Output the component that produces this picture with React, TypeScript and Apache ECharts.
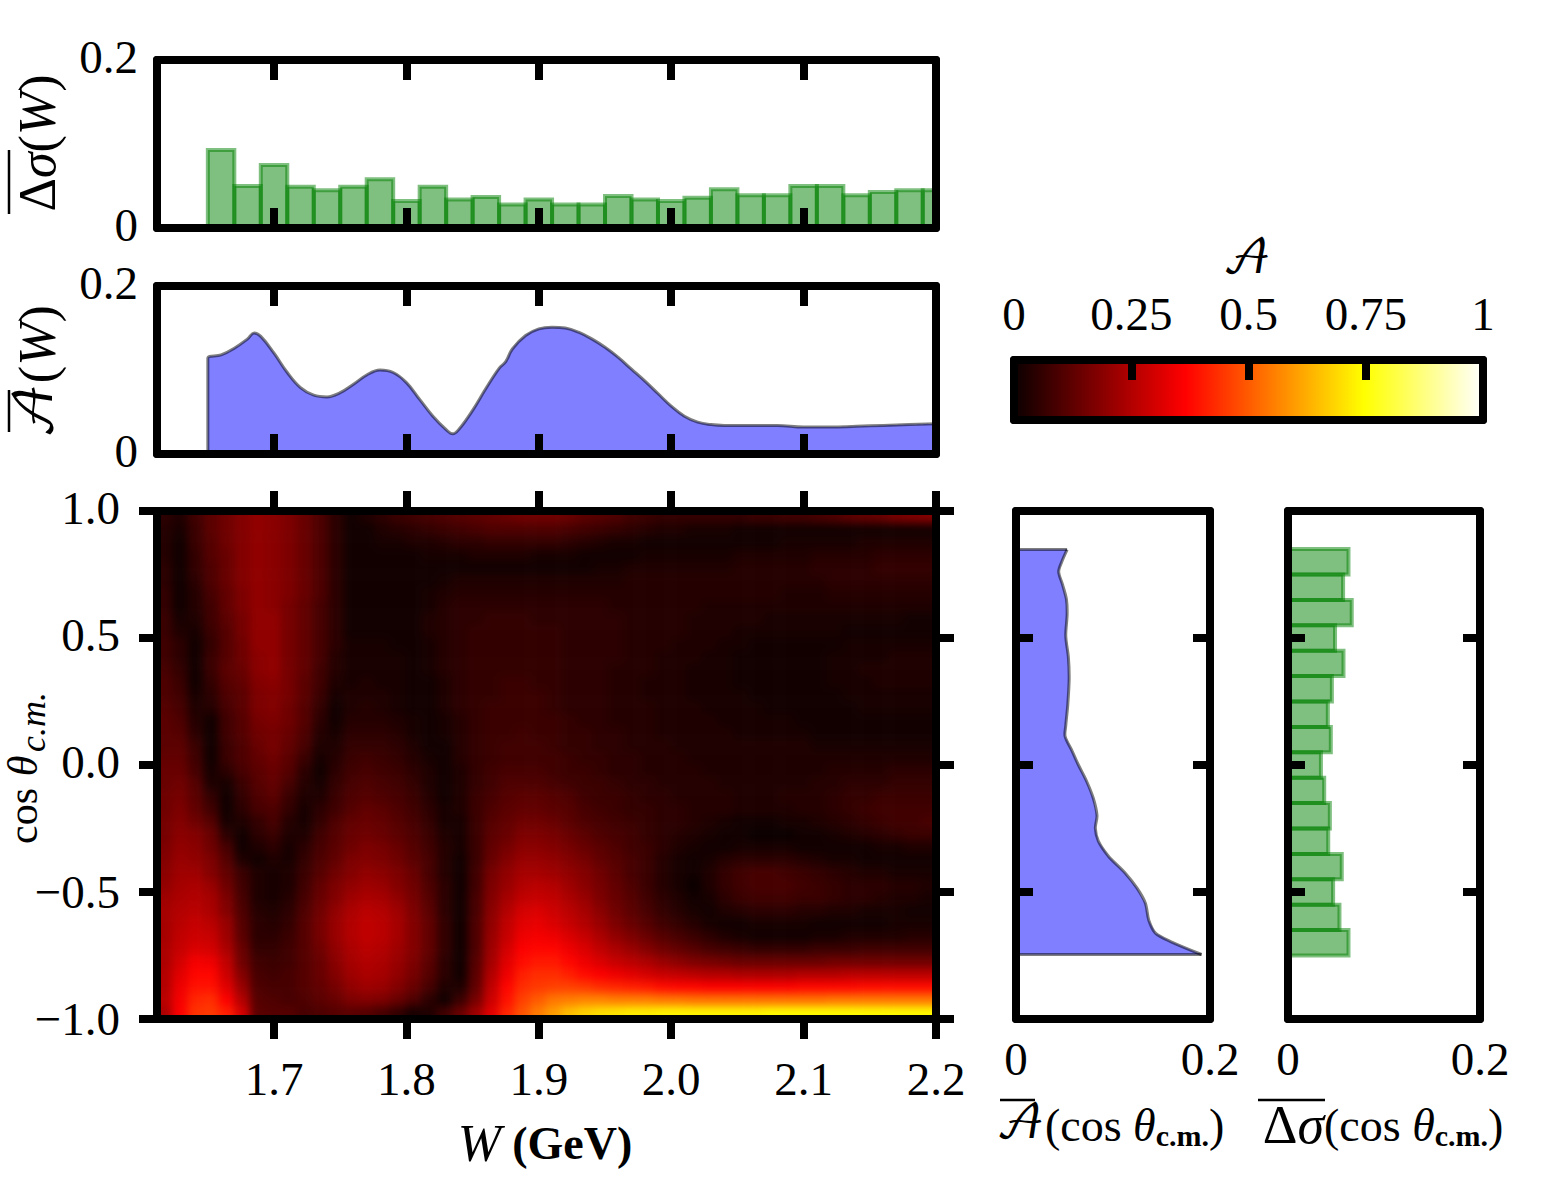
import React, { useEffect, useRef } from "react";
import * as echarts from "echarts";

const SERIF = '"Liberation Serif", serif';
const SCRIPT = '"DejaVu Math TeX Gyre", "Liberation Serif", serif';

const wTicks = [1.7, 1.8, 1.9, 2.0, 2.1, 2.2];
const cosTicks = [-1, -0.5, 0, 0.5, 1];
const innerCosTicks = [-0.5, 0, 0.5];
const meanTicks = [0, 0.2];
const barTicks = [0, 0.25, 0.5, 0.75, 1];
const W_MIN = 1.6116;
const W_MAX = 2.2;

const sigmaWCenters = [1.66, 1.68, 1.7, 1.72, 1.74, 1.76, 1.78, 1.8, 1.82, 1.84, 1.86, 1.88, 1.9, 1.92, 1.94, 1.96, 1.98, 2.0, 2.02, 2.04, 2.06, 2.08, 2.1, 2.12, 2.14, 2.16, 2.18, 2.2];
const sigmaWValues = [0.093, 0.05, 0.075, 0.049, 0.045, 0.049, 0.058, 0.032, 0.049, 0.034, 0.037, 0.028, 0.034, 0.028, 0.028, 0.038, 0.034, 0.032, 0.036, 0.046, 0.039, 0.039, 0.05, 0.05, 0.039, 0.043, 0.045, 0.045];

const aW = [1.65, 1.65, 1.66, 1.67, 1.68, 1.685, 1.69, 1.7, 1.71, 1.72, 1.73, 1.74, 1.75, 1.76, 1.77, 1.78, 1.79, 1.8, 1.81, 1.82, 1.83, 1.835, 1.84, 1.85, 1.86, 1.87, 1.875, 1.88, 1.89, 1.9, 1.91, 1.92, 1.93, 1.94, 1.95, 1.96, 1.97, 1.98, 1.99, 2.0, 2.01, 2.02, 2.03, 2.04, 2.06, 2.08, 2.1, 2.12, 2.14, 2.16, 2.18, 2.2];
const aWValues = [0, 0.114, 0.118, 0.126, 0.137, 0.144, 0.14, 0.12, 0.097, 0.079, 0.07, 0.068, 0.073, 0.083, 0.094, 0.1, 0.097, 0.085, 0.065, 0.045, 0.029, 0.024, 0.03, 0.052, 0.078, 0.102, 0.11, 0.125, 0.141, 0.149, 0.151, 0.15, 0.145, 0.137, 0.127, 0.115, 0.101, 0.087, 0.072, 0.057, 0.045, 0.038, 0.035, 0.034, 0.034, 0.034, 0.032, 0.032, 0.033, 0.034, 0.035, 0.036];

const aCosTheta = [0.848, 0.803, 0.761, 0.71, 0.652, 0.593, 0.508, 0.424, 0.34, 0.239, 0.155, 0.113, 0.054, 0.003, -0.064, -0.131, -0.199, -0.249, -0.3, -0.359, -0.426, -0.485, -0.544, -0.611, -0.662, -0.695, -0.746];
const aCosValues = [0.0527, 0.0475, 0.044, 0.048, 0.052, 0.0527, 0.0513, 0.054, 0.0548, 0.0534, 0.0513, 0.0506, 0.058, 0.064, 0.0728, 0.0797, 0.0835, 0.0818, 0.0849, 0.0953, 0.1127, 0.1248, 0.1334, 0.1369, 0.1438, 0.1594, 0.1913];

const sigmaCosCenters = [0.8, 0.7, 0.6, 0.5, 0.4, 0.3, 0.2, 0.1, 0, -0.1, -0.2, -0.3, -0.4, -0.5, -0.6, -0.7];
const sigmaCosValues = [0.063, 0.0574, 0.0664, 0.049, 0.0578, 0.0457, 0.0415, 0.0446, 0.0343, 0.0377, 0.0436, 0.0419, 0.056, 0.047, 0.0536, 0.063];

// A(W, cos) in hundredths; first row is the top of the map (cos = +1), first column the left (low W).
const heatRows: number[][] = [
[5,3,8,12,15,18,20,19,17,14,10,5,1,3,5,7,8,9,10,11,12,13,14,15,15,15,14,12,11,10,8,7,6,6,6,6,6,6,7,7,8,8,9,10,12,13,14,16,17,18],
[4,2,7,12,15,18,20,19,17,14,10,5,1,1,3,4,5,6,7,8,9,10,10,10,10,10,9,8,7,6,5,4,3,3,2,2,2,1,1,1,1,1,1,1,1,1,1,1,1,1],
[4,1,7,11,15,18,20,19,17,14,10,5,1,1,2,2,3,3,4,5,5,6,6,6,6,6,5,4,3,2,2,1,1,1,1,1,1,1,1,1,2,2,2,2,2,3,3,3,3,3],
[4,1,6,11,14,18,20,19,17,14,10,5,1,1,1,1,1,2,2,2,3,3,3,3,2,2,2,1,1,1,1,2,2,2,2,2,2,3,3,3,3,3,4,4,4,4,5,5,5,5],
[5,1,6,10,14,18,20,19,17,14,10,5,1,1,1,1,1,1,1,1,1,1,1,1,1,1,1,1,2,2,3,3,3,3,3,3,3,4,4,4,4,4,5,5,5,5,6,6,6,6],
[5,1,5,10,14,18,20,19,17,14,10,5,1,1,1,1,1,1,2,3,3,3,3,3,3,3,3,3,3,3,4,4,4,4,4,4,4,4,4,4,4,4,4,5,5,5,5,5,5,5],
[6,1,4,9,13,17,20,19,17,14,10,5,1,1,1,1,1,2,3,4,4,4,4,4,4,4,4,4,4,4,4,4,4,4,4,4,4,4,4,4,3,3,3,4,4,4,4,4,4,4],
[6,1,4,8,13,17,20,19,16,13,9,5,1,1,1,1,1,2,4,5,5,5,5,5,5,5,5,5,5,4,4,4,4,4,4,3,3,3,3,3,3,3,3,3,3,3,3,3,3,3],
[7,2,3,8,12,16,20,20,16,13,9,5,1,1,1,1,1,3,4,5,5,6,6,6,5,5,5,5,5,5,4,4,4,4,3,3,3,3,3,2,2,2,2,2,2,2,2,2,1,1],
[7,3,2,7,11,16,20,20,16,13,9,5,1,1,1,1,1,3,4,5,6,6,6,6,6,6,5,5,5,5,4,4,4,4,3,3,3,2,2,2,2,2,2,2,1,1,1,1,1,1],
[8,5,1,6,11,15,20,20,16,13,9,5,2,2,2,1,1,2,4,5,6,6,6,6,6,6,5,5,5,5,4,4,4,3,3,3,2,2,1,1,1,1,1,1,2,2,2,2,2,2],
[8,5,1,7,11,15,19,20,16,13,9,4,2,2,2,2,1,2,4,5,6,6,6,6,6,6,5,5,5,5,4,4,3,3,3,2,2,1,1,1,1,1,1,2,2,2,2,3,3,3],
[9,6,1,7,12,14,19,20,16,13,8,4,2,2,2,2,1,2,4,5,6,6,6,6,6,6,5,5,5,4,4,4,3,3,2,2,2,1,1,1,1,1,1,2,2,3,3,3,3,3],
[10,7,1,6,11,13,18,19,16,12,8,3,2,3,2,2,1,1,3,5,6,6,7,7,6,6,5,5,5,4,4,3,3,3,2,2,2,1,1,1,1,1,1,2,2,2,3,3,3,3],
[10,8,2,5,10,12,17,18,16,12,7,2,3,3,3,2,1,1,3,5,6,6,7,7,7,6,5,5,5,4,4,3,3,3,2,2,2,2,1,1,1,1,1,1,2,2,2,2,2,2],
[11,9,3,4,9,12,17,18,15,11,6,1,3,4,3,2,1,1,3,5,6,7,7,7,7,6,5,5,5,4,4,4,3,3,3,2,2,2,2,1,1,1,1,1,1,2,2,2,2,2],
[12,10,4,1,8,11,16,17,15,11,5,1,4,4,4,3,2,1,2,4,6,7,7,7,7,7,6,5,5,4,4,4,3,3,3,3,2,2,2,2,2,1,1,1,1,1,1,1,1,1],
[12,11,5,1,8,11,15,16,14,10,4,2,5,5,5,4,2,1,2,4,6,7,7,8,7,7,6,6,5,5,4,4,3,3,3,3,3,2,2,2,2,2,1,1,1,1,1,1,1,1],
[12,12,7,1,7,10,14,16,13,9,3,3,6,6,6,5,3,1,1,4,6,7,8,8,8,7,6,6,5,5,4,4,4,3,3,3,3,3,3,3,3,3,2,2,2,2,2,2,2,2],
[13,13,8,1,7,10,13,15,12,7,2,4,7,8,7,6,4,2,1,4,6,7,8,8,8,8,7,6,6,5,5,4,4,4,3,3,3,3,3,3,3,3,3,3,3,3,3,3,3,3],
[14,14,9,2,5,9,12,14,11,5,1,5,8,9,8,7,5,3,1,3,6,8,9,9,9,8,7,7,6,5,5,4,4,4,4,3,3,3,3,3,3,3,3,4,4,4,4,5,5,5],
[14,15,11,3,2,7,11,13,9,4,2,6,9,10,9,8,6,3,1,3,6,8,10,10,10,9,8,7,7,6,5,5,4,4,4,4,3,3,3,3,3,3,4,4,5,5,5,6,6,6],
[15,16,12,6,1,6,10,12,7,3,3,7,10,11,10,9,7,4,1,3,7,9,11,12,12,11,10,8,7,7,6,5,5,4,4,4,4,3,3,3,4,4,4,5,6,6,7,7,7,7],
[15,17,13,8,1,5,9,10,6,2,5,8,11,13,12,10,8,5,2,3,7,10,12,13,13,12,11,9,8,7,6,6,5,5,4,4,4,3,3,3,3,4,4,5,6,7,8,8,8,8],
[16,18,15,11,2,3,6,9,4,2,6,10,13,14,13,11,9,6,2,2,7,11,13,15,15,14,12,10,9,8,7,6,5,5,4,3,2,1,1,1,2,2,3,4,5,6,7,8,8,9],
[16,19,18,14,5,1,5,7,3,3,8,11,14,15,14,12,10,7,3,2,7,12,14,17,17,16,14,12,10,9,8,6,5,4,3,2,1,1,0,0,0,1,1,2,3,4,5,6,7,7],
[17,20,19,15,9,1,3,5,2,5,9,12,15,17,16,14,11,8,4,2,7,13,16,19,19,18,16,14,12,10,8,7,5,3,2,1,1,2,2,2,2,1,1,1,1,1,2,2,3,3],
[18,21,20,17,11,3,1,3,2,6,10,13,17,18,17,15,12,9,4,1,7,14,18,21,21,20,18,16,13,11,9,7,4,2,1,2,4,5,5,5,5,4,3,2,2,1,1,1,1,1],
[19,22,22,18,13,7,3,2,3,7,11,15,18,20,19,17,14,9,4,1,8,16,20,23,23,22,20,18,15,12,9,7,4,2,1,3,6,8,9,9,8,7,6,5,4,3,3,2,2,2],
[20,23,24,21,15,8,3,2,3,8,13,17,20,22,21,18,15,10,5,1,8,17,21,25,26,25,22,19,16,13,10,7,4,2,0,3,6,8,9,9,9,8,7,6,5,5,5,4,4,3],
[22,24,25,23,17,9,3,2,4,9,14,18,22,24,23,20,16,11,5,1,9,18,23,27,28,27,24,21,17,14,11,8,5,3,1,2,5,7,8,8,8,7,7,6,5,5,4,3,3,2],
[23,25,26,24,18,10,4,3,5,10,15,20,24,26,25,22,17,12,5,1,9,19,25,30,31,29,26,23,19,15,12,9,6,4,2,1,3,4,5,5,5,4,4,3,3,2,2,2,1,1],
[23,26,28,26,21,11,5,4,6,11,16,21,25,27,26,23,18,13,6,1,10,20,27,32,33,31,28,25,21,17,14,11,8,6,4,2,1,1,2,2,2,2,1,1,1,1,1,2,2,2],
[23,27,29,28,22,12,5,5,7,11,16,21,25,27,26,23,18,13,6,1,10,21,28,34,35,34,31,28,24,20,17,14,11,9,7,5,3,2,1,1,1,1,2,2,3,3,3,3,4,4],
[24,28,31,30,24,14,6,6,8,11,15,20,24,26,25,22,18,13,6,1,10,22,30,36,37,37,34,31,27,24,21,18,15,13,11,9,8,7,6,6,6,6,7,7,7,8,8,8,8,8],
[24,30,35,34,27,15,8,7,8,11,14,19,23,25,24,21,17,12,5,1,11,23,32,38,40,40,37,34,31,28,26,24,21,19,17,16,15,14,14,14,14,14,14,15,15,15,15,15,15,15],
[25,32,37,37,29,18,9,8,9,11,14,18,22,24,23,20,16,11,5,1,12,25,34,41,43,43,41,38,36,34,32,30,28,27,26,25,25,24,24,24,24,25,25,25,26,26,26,26,26,26],
[25,34,39,39,32,21,10,9,9,11,13,16,20,22,21,18,14,9,3,3,13,27,37,43,45,46,46,45,43,42,41,40,38,37,37,36,36,36,36,36,36,37,37,37,37,38,38,38,38,38],
[26,35,42,43,36,25,11,10,9,10,12,14,17,18,17,14,10,5,1,7,16,29,39,46,50,54,55,56,56,55,55,55,54,54,53,53,53,53,53,53,53,53,53,54,54,54,54,54,54,54],
[24,36,44,45,41,30,12,11,11,9,10,11,12,11,9,6,2,3,8,14,22,32,42,49,55,60,65,68,70,71,72,72,73,73,73,73,73,73,73,74,74,74,74,74,74,74,74,74,74,74],
];

const PAD = 3;
const BLUR = 4.5;
const PLOT = { left: 157, top: 511, width: 779, height: 508 };

function hot(v: number): string {
  const r = Math.min(1, 0.0416 + (v * (1 - 0.0416)) / 0.365);
  const g = Math.max(0, Math.min(1, (v - 0.365) / 0.381));
  const b = Math.max(0, Math.min(1, (v - 0.746) / 0.254));
  return `rgb(${Math.round(r * 255)},${Math.round(g * 255)},${Math.round(b * 255)})`;
}

const BOXES = [
  { left: 157, top: 60, width: 779, height: 168 },
  { left: 157, top: 286, width: 779, height: 168 },
  { left: 157, top: 511, width: 779, height: 508 },
  { left: 1016, top: 511, width: 194, height: 508 },
  { left: 1288, top: 511, width: 192, height: 508 },
  { left: 1014, top: 360, width: 469, height: 60 },
];

const labelBase = { color: "#000", fontFamily: SERIF, fontSize: 47 };

function axis(gridIndex: number, position: string, min: number, max: number, tick?: any, label?: any) {
  return {
    type: "value",
    gridIndex,
    position,
    min,
    max,
    z: 10,
    axisLine: { show: true, onZero: false, lineStyle: { color: "#000", width: 8 } },
    splitLine: { show: false },
    axisTick: tick
      ? { show: true, inside: tick.inside, length: tick.length, customValues: tick.values, lineStyle: { color: "#000", width: 8 } }
      : { show: false },
    axisLabel: label
      ? { show: true, ...labelBase, customValues: label.values, margin: label.margin, formatter: label.formatter, rich: label.rich, hideOverlap: false }
      : { show: false },
  };
}

const fmt1 = (v: number) => v.toFixed(1);
const fmtCos = (v: number) => (v < 0 ? `{n|${v.toFixed(1).replace("-", "\u2212")}}` : `{p|${v.toFixed(1)}}`);
const fmtMean = (v: number) => (v === 0 ? "0" : "0.2");
const fmtMeanUp = (v: number) => (v === 0 ? "{p|0}" : "{p|0.2}");
const cosRich = {
  n: { fontFamily: SERIF, fontSize: 47, color: "#000" },
  p: { fontFamily: SERIF, fontSize: 47, color: "#000", padding: [0, 0, 6, 0] },
};
const meanRich = {
  p: { fontFamily: SERIF, fontSize: 47, color: "#000", padding: [0, 0, 7, 0] },
};

function overline(x1: number, y1: number, x2: number, y2: number) {
  return { type: "line", shape: { x1, y1, x2, y2 }, style: { stroke: "#000", lineWidth: 2.5 }, z: 20 };
}

function txt(x: number, y: number, text: string, font: string, rotation = 0, rich?: any) {
  return {
    type: "text",
    x,
    y,
    rotation,
    z: 20,
    style: { text, font, fill: "#000", textAlign: "center", textVerticalAlign: "middle", rich },
  };
}

const bigRich = {
  a: { fontFamily: SCRIPT, fontSize: 52 },
  d: { fontFamily: SERIF, fontSize: 52 },
  i: { fontFamily: SERIF, fontStyle: "italic", fontSize: 52 },
  r: { fontFamily: SERIF, fontSize: 52 },
};

const subRich = {
  a: { fontFamily: SCRIPT, fontSize: 46, lineHeight: 50, verticalAlign: "middle" },
  d: { fontFamily: SERIF, fontSize: 54, lineHeight: 50, verticalAlign: "middle" },
  g: { fontFamily: SERIF, fontStyle: "italic", fontSize: 54, lineHeight: 50, verticalAlign: "middle" },
  i: { fontFamily: SERIF, fontStyle: "italic", fontSize: 46, lineHeight: 50, verticalAlign: "middle" },
  r: { fontFamily: SERIF, fontSize: 46, lineHeight: 50, verticalAlign: "middle" },
  s: { fontFamily: SERIF, fontWeight: "bold", fontSize: 30, lineHeight: 50, verticalAlign: "bottom" },
};

export default function App() {
  const heatRef = useRef<HTMLDivElement>(null);
  const mainRef = useRef<HTMLDivElement>(null);

  useEffect(() => {
    const nRows = heatRows.length;
    const nCols = heatRows[0].length;
    const heatData: number[][] = [];
    for (let r = -PAD; r < nRows + PAD; r++) {
      for (let c = -PAD; c < nCols + PAD; c++) {
        const rr = Math.max(0, Math.min(nRows - 1, r));
        const cc = Math.max(0, Math.min(nCols - 1, c));
        heatData.push([c + PAD, r + PAD, heatRows[rr][cc] / 100]);
      }
    }
    const ramp: string[] = [];
    for (let i = 0; i <= 50; i++) ramp.push(hot(i / 50));

    const heat = echarts.init(heatRef.current!, undefined, { renderer: "svg" });
    heat.setOption({
      animation: false,
      grid: { left: 0, right: 0, top: 0, bottom: 0 },
      xAxis: { type: "category", show: false, data: Array.from({ length: nCols + 2 * PAD }, (_, i) => i) },
      yAxis: { type: "category", show: false, inverse: true, data: Array.from({ length: nRows + 2 * PAD }, (_, i) => i) },
      visualMap: { show: false, min: 0, max: 1, dimension: 2, inRange: { color: ramp } },
      series: [{ type: "heatmap", data: heatData, progressive: 0, emphasis: { disabled: true } }],
    });

    const chart = echarts.init(mainRef.current!, undefined, { renderer: "svg" });
    const inTop = { inside: true, length: 20, values: wTicks };
    const outW = { inside: false, length: 20, values: wTicks };
    const outCos = { inside: false, length: 18, values: cosTicks };
    const inCos = { inside: true, length: 17, values: innerCosTicks };

    const xAxes = [
      axis(0, "bottom", W_MIN, W_MAX, inTop),
      axis(0, "top", W_MIN, W_MAX, inTop),
      axis(1, "bottom", W_MIN, W_MAX, inTop),
      axis(1, "top", W_MIN, W_MAX, inTop),
      axis(2, "bottom", W_MIN, W_MAX, outW, { values: wTicks, margin: 36, formatter: fmt1 }),
      axis(2, "top", W_MIN, W_MAX, outW),
      axis(3, "bottom", 0, 0.2, undefined, { values: meanTicks, margin: 16, formatter: fmtMean }),
      axis(3, "top", 0, 0.2),
      axis(4, "bottom", 0, 0.2, undefined, { values: meanTicks, margin: 16, formatter: fmtMean }),
      axis(4, "top", 0, 0.2),
      axis(5, "bottom", 0, 1),
      axis(5, "top", 0, 1, { inside: true, length: 20, values: [0.25, 0.5, 0.75] }, { values: barTicks, margin: 23, formatter: (v: number) => String(v) }),
    ];
    const yAxes = [
      axis(0, "left", 0, 0.2, undefined, { values: meanTicks, margin: 19, formatter: fmtMeanUp, rich: meanRich }),
      axis(0, "right", 0, 0.2),
      axis(1, "left", 0, 0.2, undefined, { values: meanTicks, margin: 19, formatter: fmtMeanUp, rich: meanRich }),
      axis(1, "right", 0, 0.2),
      axis(2, "left", -1, 1, outCos, { values: cosTicks, margin: 37, formatter: fmtCos, rich: cosRich }),
      axis(2, "right", -1, 1, outCos),
      axis(3, "left", -1, 1, inCos),
      axis(3, "right", -1, 1, inCos),
      axis(4, "left", -1, 1, inCos),
      axis(4, "right", -1, 1, inCos),
      axis(5, "left", 0, 1),
      axis(5, "right", 0, 1),
    ];

    const GREEN = "rgba(0,128,0,0.5)";
    const BLUE = "rgba(0,0,255,0.5)";
    const EDGE = "rgba(0,0,0,0.5)";

    chart.setOption({
      animation: false,
      backgroundColor: "transparent",
      grid: BOXES.map((b) => ({ ...b, containLabel: false })),
      xAxis: xAxes,
      yAxis: yAxes,
      series: [
        {
          type: "custom",
          xAxisIndex: 0,
          yAxisIndex: 0,
          clip: true,
          silent: true,
          data: sigmaWCenters.map((c, i) => [c, sigmaWValues[i]]),
          renderItem: (_params: any, api: any) => {
            const c = api.value(0);
            const v = api.value(1);
            const a = api.coord([c - 0.01, v]);
            const b = api.coord([c + 0.01, 0]);
            return {
              type: "rect",
              shape: { x: a[0], y: a[1], width: b[0] - a[0], height: b[1] - a[1] },
              style: { fill: GREEN, stroke: GREEN, lineWidth: 4 },
            };
          },
        },
        {
          type: "line",
          xAxisIndex: 2,
          yAxisIndex: 2,
          showSymbol: false,
          smooth: 0.4,
          data: aW.map((w, i) => [w, aWValues[i]]),
          lineStyle: { color: EDGE, width: 3 },
          areaStyle: { color: BLUE, origin: "start", opacity: 1 },
          silent: true,
        },
        {
          type: "custom",
          xAxisIndex: 6,
          yAxisIndex: 6,
          clip: true,
          silent: true,
          data: aCosValues.map((v, i) => [v, aCosTheta[i]]),
          renderItem: (params: any, api: any) => {
            if (params.dataIndex !== 0) return null;
            const pts = aCosValues.map((v, i) => api.coord([v, aCosTheta[i]]));
            const start = api.coord([0, aCosTheta[0]]);
            const end = api.coord([0, aCosTheta[aCosTheta.length - 1]]);
            const edge = { stroke: EDGE, lineWidth: 3, fill: "none" };
            return {
              type: "group",
              children: [
                { type: "polygon", shape: { points: [start, ...pts, end] }, style: { fill: BLUE } },
                { type: "polyline", shape: { points: pts, smooth: 0.3 }, style: edge },
                { type: "polyline", shape: { points: [start, pts[0]] }, style: edge },
                { type: "polyline", shape: { points: [pts[pts.length - 1], end] }, style: edge },
              ],
            };
          },
        },
        {
          type: "custom",
          xAxisIndex: 8,
          yAxisIndex: 8,
          clip: true,
          silent: true,
          data: sigmaCosCenters.map((c, i) => [sigmaCosValues[i], c]),
          renderItem: (_params: any, api: any) => {
            const v = api.value(0);
            const c = api.value(1);
            const a = api.coord([0, c + 0.05]);
            const b = api.coord([v, c - 0.05]);
            return {
              type: "rect",
              shape: { x: a[0], y: a[1], width: b[0] - a[0], height: b[1] - a[1] },
              style: { fill: GREEN, stroke: GREEN, lineWidth: 4 },
            };
          },
        },
        {
          type: "custom",
          xAxisIndex: 10,
          yAxisIndex: 10,
          silent: true,
          data: [[0, 1]],
          renderItem: (_params: any, api: any) => {
            const a = api.coord([0, 1]);
            const b = api.coord([1, 0]);
            return {
              type: "rect",
              shape: { x: a[0], y: a[1], width: b[0] - a[0], height: b[1] - a[1] },
              style: {
                fill: new echarts.graphic.LinearGradient(0, 0, 1, 0, [
                  { offset: 0, color: hot(0) },
                  { offset: 0.365, color: hot(0.365) },
                  { offset: 0.746, color: hot(0.746) },
                  { offset: 1, color: hot(1) },
                ]),
              },
            };
          },
        },
      ],
      graphic: [
        txt(37, 143, "{d|\u0394}{i|\u03c3}{r|(}{i|W}{r|)}", `52px ${SERIF}`, Math.PI / 2, bigRich),
        overline(9, 150, 9, 214),
        txt(37, 372, "{a|\ud835\udc9c}{r|(}{i|W}{r|)}", `52px ${SERIF}`, Math.PI / 2, bigRich),
        overline(9, 390, 9, 432),
        txt(23, 816, "cos", `42px ${SERIF}`, Math.PI / 2),
        txt(23, 766, "\u03b8", `italic 42px ${SERIF}`, Math.PI / 2),
        txt(33, 722, "c.m.", `italic 36px ${SERIF}`, Math.PI / 2),
        txt(545, 1143, "{i|W} {b|(GeV)}", `44px ${SERIF}`, 0, {
          i: { fontFamily: SERIF, fontStyle: "italic", fontSize: 52 },
          b: { fontFamily: SERIF, fontWeight: "bold", fontSize: 46 },
        }),
        txt(1247, 260, "\ud835\udc9c", `46px ${SCRIPT}`),
        txt(1110, 1125, "{a|\ud835\udc9c}{r|(cos }{i|\u03b8}{s|c.m.}{r|)}", `46px ${SERIF}`, 0, subRich),
        overline(1000, 1100, 1035, 1100),
        txt(1383, 1125, "{d|\u0394}{g|\u03c3}{r|(cos }{i|\u03b8}{s|c.m.}{r|)}", `46px ${SERIF}`, 0, subRich),
        overline(1258, 1100, 1325, 1100),
      ],
    });

    return () => {
      heat.dispose();
      chart.dispose();
    };
  }, []);

  const cellW = PLOT.width / heatRows[0].length;
  const cellH = PLOT.height / heatRows.length;

  return (
    <div style={{ position: "absolute", left: 0, top: 0, width: 1560, height: 1200, background: "#fff", overflow: "hidden" }}>
      <div style={{ position: "absolute", left: PLOT.left, top: PLOT.top, width: PLOT.width, height: PLOT.height, overflow: "hidden" }}>
        <div
          ref={heatRef}
          style={{
            position: "absolute",
            left: -PAD * cellW,
            top: -PAD * cellH,
            width: PLOT.width + 2 * PAD * cellW,
            height: PLOT.height + 2 * PAD * cellH,
            filter: `blur(${BLUR}px)`,
          }}
        />
      </div>
      <div ref={mainRef} style={{ position: "absolute", left: 0, top: 0, width: 1560, height: 1200 }} />
    </div>
  );
}
